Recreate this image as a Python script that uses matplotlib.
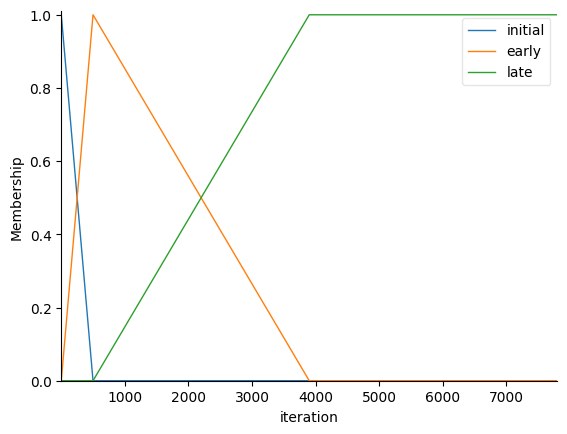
import matplotlib
matplotlib.use("Agg")
import matplotlib.pyplot as plt

# universe breakpoints
universe = [1, 500, 3900, 7800]
initial = [1.0, 0.0, 0.0, 0.0]
early = [0.0, 1.0, 0.0, 0.0]
late = [0.0, 0.0, 1.0, 1.0]
labels = ["initial", "early", "late"]

fig, ax = plt.subplots(figsize=(6.4, 4.8), dpi=100)
for lab, vals in zip(labels, [initial, early, late]):
    ax.plot(universe, vals, label=lab, lw=1)

ax.set_ylim([0, 1.01])
ax.set_xlim([universe[0], universe[-1]])
ax.spines['top'].set_visible(False)
ax.spines['right'].set_visible(False)
ax.get_xaxis().tick_bottom()
ax.get_yaxis().tick_left()
ax.set_xlabel("iteration")
ax.set_ylabel("Membership")
ax.legend(framealpha=0.5)
fig.savefig("out.png", dpi=100, bbox_inches="tight")
